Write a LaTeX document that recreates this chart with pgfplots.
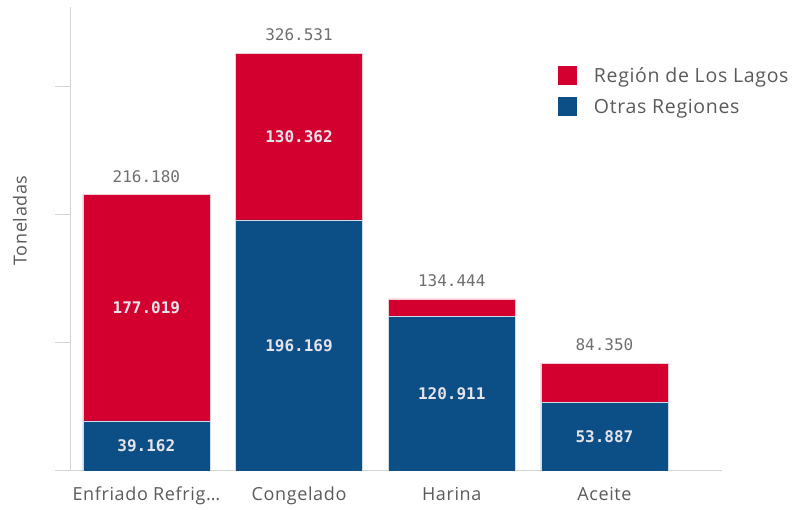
\documentclass[border=0pt]{standalone}
\usepackage{fontspec}
\setmainfont{Open Sans}
\newfontfamily\numfont{DejaVu Sans Mono}
\newfontfamily\lblfont[LetterSpace=3.5]{Open Sans}
\usepackage{pgfplots}
\pgfplotsset{compat=1.18}
\definecolor{lagos}{HTML}{D3002F}
\definecolor{otras}{HTML}{0C4E86}
\definecolor{axisgray}{HTML}{D4D4D4}
\definecolor{txtgray}{HTML}{5A5A5A}
\definecolor{numgray}{HTML}{6E6E6E}
\definecolor{inbar}{HTML}{E4E4EA}

\pgfplotstableread{
x otras lagos
0 39.162 177.019
1 196.169 130.362
2 120.911 13.533
3 53.887 30.463
}\datatbl

\pgfplotstableread{
x y label
0 19.581 39.162
0 127.672 177.019
1 98.085 196.169
1 261.350 130.362
2 60.456 120.911
3 26.944 53.887
}\inbartbl

\pgfplotstableread{
x y label
0 216.181 216.180
1 326.531 326.531
2 134.444 134.444
3 84.350 84.350
}\totaltbl

\pgfplotsset{
  base/.style={at={(70pt,39pt)},anchor=south west,scale only axis,
    width=652pt,height=464pt,xmin=-0.5,xmax=3.77,ymin=0,ymax=362.5},
}

\begin{document}
\begin{tikzpicture}
\useasboundingbox (0,0) rectangle (795pt,510pt);
\begin{axis}[base,
  ybar stacked,bar width=127pt,
  axis lines=left,axis line style={-,axisgray,line width=1pt},
  xtick={0,1,2,3},
  xticklabels={Enfriado Refrig…,Congelado,Harina,Aceite},
  xtick align=inside,x tick style={draw=none},
  ytick={0,100,200,300},yticklabels={},
  ytick align=outside,major tick length=15pt,
  y tick style={axisgray,line width=1pt},
  xticklabel style={font=\lblfont\fontsize{18}{20}\selectfont,text=txtgray,anchor=north,inner sep=0pt,yshift=-16pt},
  ylabel={Toneladas},
  every axis y label/.style={at={(axis description cs:-0.0767,0.54)},rotate=90,anchor=center,
    font=\lblfont\fontsize{18}{20}\selectfont,text=txtgray},
  reverse legend,legend cell align=left,
  legend image code/.code={\fill[#1,draw=none] (0pt,-9.5pt) rectangle (19pt,9.5pt);},
  legend style={at={(axis description cs:0.748,0.873)},anchor=north west,draw=none,fill=none,
    font=\lblfont\fontsize{19.5}{21}\selectfont,text=txtgray,inner sep=0pt,row sep=12pt,
    nodes={inner sep=0pt},/tikz/every odd column/.append style={column sep=17pt}},
]
\addplot[fill=otras,draw=white!80!otras,line width=0.6pt] table[x=x,y=otras]{\datatbl};
\addlegendentry{Otras Regiones}
\addplot[fill=lagos,draw=white!80!lagos,line width=0.6pt] table[x=x,y=lagos]{\datatbl};
\addlegendentry{Región de Los Lagos}
\end{axis}
\begin{axis}[base,hide axis]
\addplot[draw=none,nodes near coords,point meta=explicit symbolic,
  every node near coord/.style={anchor=center,font=\numfont\bfseries\fontsize{16}{18}\selectfont,text=inbar}]
  table[x=x,y=y,meta=label]{\inbartbl};
\addplot[draw=none,nodes near coords,point meta=explicit symbolic,
  every node near coord/.style={anchor=center,yshift=18pt,font=\numfont\fontsize{16}{18}\selectfont,text=numgray}]
  table[x=x,y=y,meta=label]{\totaltbl};
\end{axis}
\end{tikzpicture}
\end{document}
